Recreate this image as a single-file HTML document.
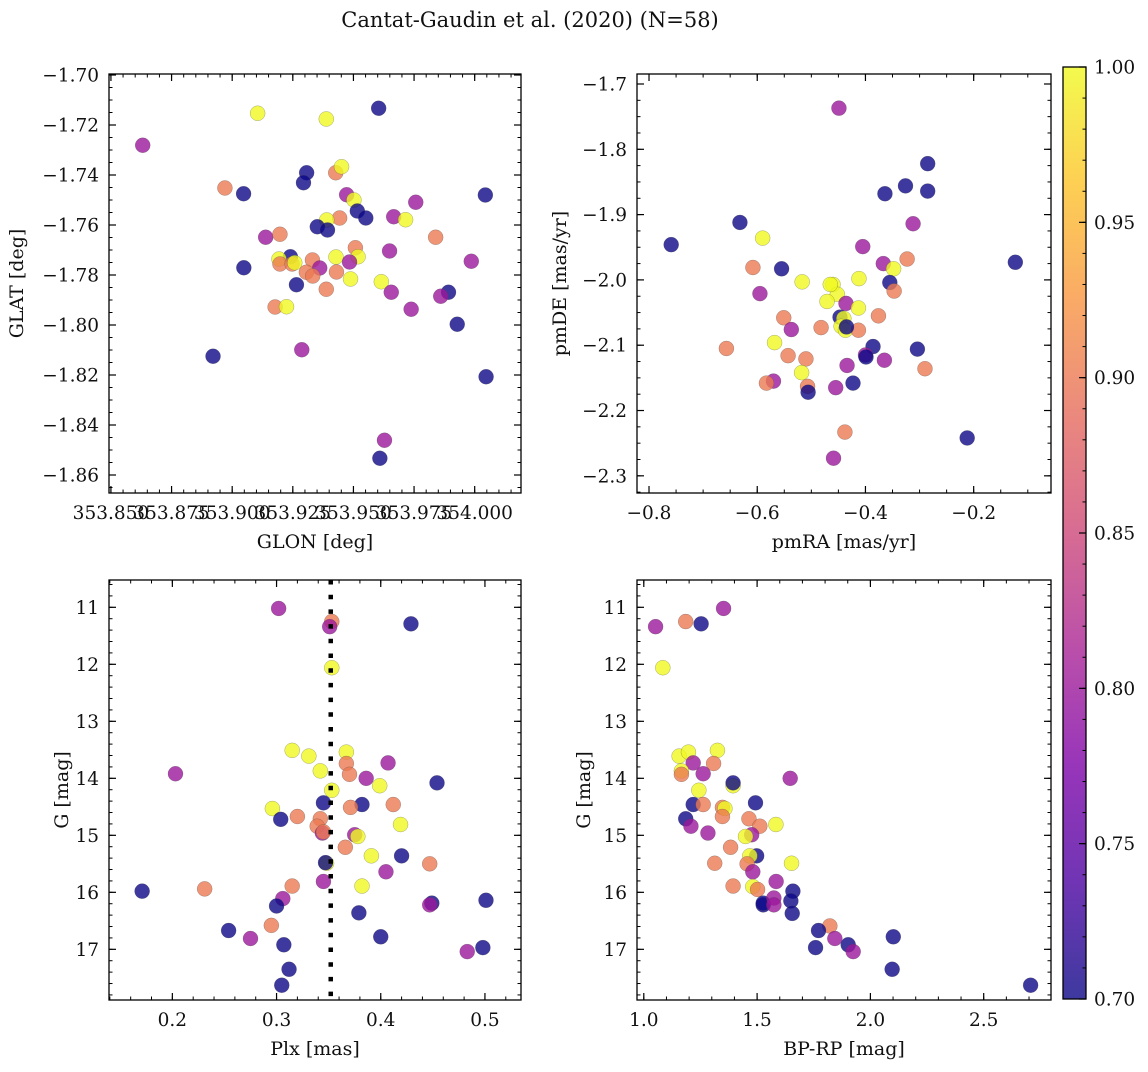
<!DOCTYPE html>
<html><head><meta charset="utf-8"><style>
html,body{margin:0;padding:0;background:#fff;}
svg text{font-family:"DejaVu Serif","Liberation Serif",serif;fill:#111;}
</style></head><body>
<svg id="fig" xmlns="http://www.w3.org/2000/svg" width="1148" height="1067" viewBox="0 0 1148 1067">
<defs><linearGradient id="cbgrad" x1="0" y1="1" x2="0" y2="0">
<stop offset="0" stop-color="#0d0887" stop-opacity="0.8"/><stop offset="0.125" stop-color="#4c02a1" stop-opacity="0.8"/><stop offset="0.25" stop-color="#7e03a8" stop-opacity="0.8"/><stop offset="0.375" stop-color="#a92395" stop-opacity="0.8"/><stop offset="0.5" stop-color="#cc4778" stop-opacity="0.8"/><stop offset="0.625" stop-color="#e56b5d" stop-opacity="0.8"/><stop offset="0.75" stop-color="#f89540" stop-opacity="0.8"/><stop offset="0.875" stop-color="#fdc328" stop-opacity="0.8"/><stop offset="1" stop-color="#f0f921" stop-opacity="0.8"/>
</linearGradient></defs>
<text x="530" y="27" font-size="21" text-anchor="middle">Cantat-Gaudin et al. (2020) (N=58)</text>
</svg>
<script>
// Panel 1: GLON / GLAT
const glon=[353.8631,353.9105,353.9388,353.9604,353.8970,353.9047,353.9307,353.9294,353.9427,353.9451,353.9472,353.9502,353.9516,353.9551,353.9443,353.9390,353.9351,353.9393,353.9757,353.9666,353.9715,354.0044,353.9839,353.9138,353.9197,353.9240,353.9193,353.9197,353.9247,353.9258,353.9331,353.9361,353.9306,353.9428,353.9508,353.9519,353.9484,353.9430,353.9488,353.9649,353.9986,353.9048,353.9265,353.9388,353.9615,353.9656,353.9892,353.9860,353.9738,353.9928,353.9177,353.9224,353.8921,353.9287,354.0047,353.9628,353.9609,353.9332];
const glat=[-1.7281,-1.7153,-1.7176,-1.7133,-1.7452,-1.7475,-1.7391,-1.7431,-1.7391,-1.7367,-1.7479,-1.7500,-1.7544,-1.7572,-1.7572,-1.7580,-1.7607,-1.7620,-1.7509,-1.7567,-1.7579,-1.7480,-1.7649,-1.7649,-1.7637,-1.7727,-1.7736,-1.7756,-1.7756,-1.7751,-1.7740,-1.7772,-1.7789,-1.7728,-1.7691,-1.7727,-1.7748,-1.7788,-1.7816,-1.7704,-1.7745,-1.7771,-1.7839,-1.7857,-1.7827,-1.7869,-1.7869,-1.7885,-1.7937,-1.7997,-1.7928,-1.7927,-1.8125,-1.8099,-1.8207,-1.8461,-1.8533,-1.7804];
const prob1=[0.8,1,1,0.7,0.9,0.7,0.7,0.7,0.9,1,0.8,1,0.7,0.7,0.9,1,0.7,0.7,0.8,0.8,1,0.7,0.9,0.8,0.9,0.7,1,0.9,0.9,1,0.9,0.8,0.9,1,0.9,1,0.8,0.9,1,0.8,0.8,0.7,0.7,0.9,1,0.8,0.7,0.8,0.8,0.7,0.9,1,0.7,0.8,0.7,0.8,0.7,0.9];
// Panel 2: pmRA / pmDE
const pmra=[-0.449,-0.285,-0.326,-0.364,-0.285,-0.632,-0.312,-0.759,-0.590,-0.405,-0.608,-0.555,-0.367,-0.323,-0.348,-0.123,-0.517,-0.412,-0.355,-0.347,-0.460,-0.452,-0.595,-0.471,-0.436,-0.413,-0.376,-0.551,-0.447,-0.440,-0.445,-0.437,-0.537,-0.482,-0.413,-0.568,-0.657,-0.386,-0.304,-0.400,-0.399,-0.543,-0.510,-0.365,-0.434,-0.290,-0.518,-0.570,-0.583,-0.423,-0.507,-0.506,-0.455,-0.438,-0.212,-0.459,-0.435,-0.465];
const pmde=[-1.737,-1.822,-1.856,-1.868,-1.864,-1.912,-1.914,-1.946,-1.936,-1.949,-1.981,-1.983,-1.975,-1.968,-1.983,-1.973,-2.003,-1.998,-2.004,-2.017,-2.007,-2.022,-2.021,-2.033,-2.036,-2.043,-2.055,-2.058,-2.057,-2.059,-2.071,-2.077,-2.076,-2.073,-2.077,-2.096,-2.105,-2.102,-2.106,-2.115,-2.118,-2.116,-2.121,-2.123,-2.131,-2.136,-2.142,-2.155,-2.158,-2.158,-2.163,-2.172,-2.165,-2.233,-2.242,-2.273,-2.072,-2.007];
const prob2=[0.8,0.7,0.7,0.7,0.7,0.7,0.8,0.7,1,0.8,0.9,0.7,0.8,0.9,1,0.7,1,1,0.7,0.9,1,1,0.8,1,0.8,1,0.9,0.9,0.7,1,1,1,0.8,0.9,0.9,1,0.9,0.7,0.7,0.8,0.7,0.9,0.9,0.8,0.8,0.9,1,0.8,0.9,0.7,0.9,0.7,0.8,0.9,0.7,0.8,0.7,1];
// Panel 3: Plx / G
const plx=[0.302,0.353,0.351,0.429,0.353,0.315,0.331,0.367,0.367,0.407,0.342,0.370,0.203,0.386,0.399,0.454,0.353,0.345,0.382,0.371,0.412,0.296,0.304,0.320,0.342,0.339,0.344,0.375,0.378,0.419,0.366,0.391,0.420,0.348,0.447,0.405,0.345,0.382,0.315,0.231,0.171,0.306,0.300,0.449,0.447,0.501,0.379,0.295,0.254,0.275,0.400,0.307,0.498,0.483,0.312,0.305,0.347,0.345];
const gmag3=[11.02,11.25,11.34,11.29,12.06,13.51,13.61,13.54,13.74,13.73,13.87,13.93,13.92,14.00,14.13,14.08,14.21,14.43,14.46,14.51,14.46,14.53,14.72,14.67,14.71,14.84,14.96,14.99,15.02,14.81,15.21,15.36,15.36,15.49,15.50,15.64,15.81,15.89,15.89,15.94,15.98,16.11,16.24,16.19,16.22,16.14,16.36,16.58,16.67,16.81,16.78,16.92,16.97,17.04,17.35,17.63,15.48,14.94];
const prob3=[0.8,0.9,0.8,0.7,1,1,1,1,0.9,0.8,1,0.9,0.8,0.8,1,0.7,1,0.7,0.7,0.9,0.9,1,0.7,0.9,0.9,0.9,0.8,0.8,1,1,0.9,1,0.7,1,0.9,0.8,0.8,1,0.9,0.9,0.7,0.8,0.7,0.7,0.8,0.7,0.7,0.9,0.7,0.8,0.7,0.7,0.7,0.8,0.7,0.7,0.7,0.9];
const plxRef=[0.352];
// Panel 4: BP-RP / G
const bprp=[1.352,1.185,1.253,1.052,1.084,1.325,1.156,1.197,1.308,1.218,1.166,1.166,1.262,1.646,1.394,1.394,1.243,1.218,1.493,1.262,1.347,1.358,1.185,1.347,1.464,1.512,1.583,1.208,1.283,1.476,1.449,1.383,1.498,1.468,1.313,1.456,1.652,1.481,1.584,1.394,1.481,1.502,1.658,1.649,1.527,1.527,1.574,1.574,1.655,1.821,1.771,1.843,2.101,1.758,1.902,1.924,2.096,2.707];
const gmag4=[11.02,11.25,11.29,11.34,12.06,13.51,13.61,13.54,13.74,13.73,13.87,13.93,13.92,14.00,14.13,14.08,14.21,14.46,14.43,14.46,14.51,14.53,14.71,14.67,14.71,14.84,14.81,14.84,14.96,14.99,15.02,15.21,15.36,15.36,15.49,15.50,15.49,15.64,15.81,15.89,15.90,15.95,15.98,16.15,16.22,16.19,16.10,16.22,16.37,16.59,16.67,16.81,16.78,16.97,16.92,17.04,17.35,17.63];
const prob4=[0.8,0.9,0.7,0.8,1,1,1,1,0.9,0.8,1,0.9,0.8,0.8,1,0.7,1,0.7,0.7,0.9,0.9,1,0.7,0.9,0.9,0.9,1,0.8,0.8,0.8,1,0.9,0.7,1,0.9,0.9,1,0.8,0.8,0.9,1,0.9,0.7,0.7,0.7,0.7,0.8,0.8,0.7,0.9,0.7,0.8,0.7,0.7,0.7,0.8,0.7,0.7];
// Colorbar ticks
const cbTicks=[0.70,0.75,0.80,0.85,0.90,0.95,1.00];

const NS='http://www.w3.org/2000/svg';
const fig=document.getElementById('fig');
const TF=18.5, LF=19;
function mk(tag,attrs,parent){const e=document.createElementNS(NS,tag);for(const k in attrs)e.setAttribute(k,attrs[k]);(parent||fig).appendChild(e);return e;}
const stops=[[0,[13,8,135]],[0.125,[76,2,161]],[0.25,[126,3,168]],[0.375,[169,35,149]],[0.5,[204,71,120]],[0.625,[229,107,93]],[0.75,[248,149,64]],[0.875,[253,195,40]],[1,[240,249,33]]];
function plasma(t){t=Math.max(0,Math.min(1,t));for(let i=1;i<stops.length;i++){if(t<=stops[i][0]){const a=stops[i-1],b=stops[i],f=(t-a[0])/(b[0]-a[0]);const c=a[1].map((v,j)=>Math.round(v+(b[1][j]-v)*f));return 'rgb('+c.join(',')+')';}}return 'rgb(240,249,33)';}
function fmtMinus(s){return s.replace('-','\u2212');}

function panel(cfg){
  const g=mk('g',{});
  
  
  const sx=v=>cfg.x+(v-cfg.xd[0])/(cfg.xd[1]-cfg.xd[0])*cfg.w;
  const sy=v=>cfg.y+cfg.h-(v-cfg.yd[0])/(cfg.yd[1]-cfg.yd[0])*cfg.h;
  const xmin=Math.min(...cfg.xd),xmax=Math.max(...cfg.xd),ymin=Math.min(...cfg.yd),ymax=Math.max(...cfg.yd);
  for(let k=Math.ceil(xmin/cfg.xminor-1e-6);k*cfg.xminor<=xmax+1e-9;k++){const px=sx(k*cfg.xminor);
    mk('line',{x1:px,x2:px,y1:cfg.y+cfg.h,y2:cfg.y+cfg.h-3.5,stroke:'#000','stroke-width':1},g);
    mk('line',{x1:px,x2:px,y1:cfg.y,y2:cfg.y+3.5,stroke:'#000','stroke-width':1},g);}
  for(let k=Math.ceil(ymin/cfg.yminor-1e-6);k*cfg.yminor<=ymax+1e-9;k++){const py=sy(k*cfg.yminor);
    mk('line',{x1:cfg.x,x2:cfg.x+3.5,y1:py,y2:py,stroke:'#000','stroke-width':1},g);
    mk('line',{x1:cfg.x+cfg.w,x2:cfg.x+cfg.w-3.5,y1:py,y2:py,stroke:'#000','stroke-width':1},g);}
  cfg.xticks.forEach(v=>{const px=sx(v);
    mk('line',{x1:px,x2:px,y1:cfg.y+cfg.h,y2:cfg.y+cfg.h-7,stroke:'#000','stroke-width':1.2},g);
    mk('line',{x1:px,x2:px,y1:cfg.y,y2:cfg.y+7,stroke:'#000','stroke-width':1.2},g);
    const t=mk('text',{x:px,y:cfg.y+cfg.h+26,'font-size':TF,'text-anchor':'middle'},g);t.textContent=fmtMinus(v.toFixed(cfg.xdec));
    
    });
  cfg.yticks.forEach(v=>{const py=sy(v);
    mk('line',{x1:cfg.x,x2:cfg.x+7,y1:py,y2:py,stroke:'#000','stroke-width':1.2},g);
    mk('line',{x1:cfg.x+cfg.w,x2:cfg.x+cfg.w-7,y1:py,y2:py,stroke:'#000','stroke-width':1.2},g);
    const t=mk('text',{x:cfg.x-10,y:py+6.5,'font-size':TF,'text-anchor':'end'},g);t.textContent=fmtMinus(v.toFixed(cfg.ydec));
    
    });
  for(let i=0;i<cfg.xs.length;i++){
    const c=mk('circle',{cx:sx(cfg.xs[i]),cy:sy(cfg.ys[i]),r:7.5,fill:plasma((cfg.cs[i]-0.7)/0.3),'fill-opacity':0.8,stroke:'#444','stroke-opacity':0.45,'stroke-width':0.5},g);
    
    
  }
  if(cfg.vline){cfg.vline.forEach(v=>{const l=mk('line',{x1:sx(v),x2:sx(v),y1:cfg.y,y2:cfg.y+cfg.h,stroke:'#000','stroke-width':4.5,'stroke-dasharray':'4.5 10.2'},g);
    
    });}
  const fr=mk('rect',{x:cfg.x,y:cfg.y,width:cfg.w,height:cfg.h,fill:'none',stroke:'#000','stroke-width':1.3},g);
  
  
  const xl=mk('text',{x:cfg.x+cfg.w/2,y:cfg.y+cfg.h+55,'font-size':LF,'text-anchor':'middle'},g);xl.textContent=cfg.xlabel;
  
  
  const cy=cfg.y+cfg.h/2;
  const yl=mk('text',{x:cfg.ylx,y:cy,'font-size':LF,'text-anchor':'middle',transform:'rotate(-90 '+cfg.ylx+' '+cy+')'},g);yl.textContent=cfg.ylabel;
  
  
}

panel({name:'glon-glat-panel',x:109,y:74,w:412,h:419,xd:[353.8492,354.0191],yd:[-1.8672,-1.6996],
  xticks:[353.85,353.875,353.9,353.925,353.95,353.975,354.0],xdec:3,xminor:0.005,
  yticks:[-1.86,-1.84,-1.82,-1.80,-1.78,-1.76,-1.74,-1.72,-1.70],ydec:2,yminor:0.005,
  xs:glon,ys:glat,cs:prob1,xlabel:'GLON [deg]',ylabel:'GLAT [deg]',ylx:23});
panel({name:'proper-motion-panel',x:637,y:74,w:414,h:419,xd:[-0.8222,-0.0571],yd:[-2.3263,-1.6847],
  xticks:[-0.8,-0.6,-0.4,-0.2],xdec:1,xminor:0.05,
  yticks:[-2.3,-2.2,-2.1,-2.0,-1.9,-1.8,-1.7],ydec:1,yminor:0.025,
  xs:pmra,ys:pmde,cs:prob2,xlabel:'pmRA [mas/yr]',ylabel:'pmDE [mas/yr]',ylx:566});
panel({name:'parallax-magnitude-panel',x:109,y:580,w:412,h:420,xd:[0.1392,0.5346],yd:[17.889,10.521],
  xticks:[0.2,0.3,0.4,0.5],xdec:1,xminor:0.02,
  yticks:[11,12,13,14,15,16,17],ydec:0,yminor:0.2,
  xs:plx,ys:gmag3,cs:prob3,vline:plxRef,xlabel:'Plx [mas]',ylabel:'G [mag]',ylx:68});
panel({name:'color-magnitude-panel',x:637,y:580,w:414,h:420,xd:[0.970,2.797],yd:[17.889,10.521],
  xticks:[1.0,1.5,2.0,2.5],xdec:1,xminor:0.1,
  yticks:[11,12,13,14,15,16,17],ydec:0,yminor:0.2,
  xs:bprp,ys:gmag4,cs:prob4,xlabel:'BP-RP [mag]',ylabel:'G [mag]',ylx:590});

(function(){
  const x=1063,y=67,w=23,h=932,lo=0.7,hi=1.0;
  const g=mk('g',{});
  
  
  const sy=v=>y+h-(v-lo)/(hi-lo)*h;
  mk('rect',{x:x,y:y,width:w,height:h,fill:'url(#cbgrad)'},g);
  for(let k=70;k<=100;k++){const py=sy(k/100);mk('line',{x1:x+w,x2:x+w-3.5,y1:py,y2:py,stroke:'#000','stroke-width':1},g);}
  cbTicks.forEach(v=>{const py=sy(v);mk('line',{x1:x+w,x2:x+w-7,y1:py,y2:py,stroke:'#000','stroke-width':1.2},g);
    const t=mk('text',{x:x+w+8,y:py+6.5,'font-size':TF},g);t.textContent=v.toFixed(2);
    
    });
  mk('rect',{x:x,y:y,width:w,height:h,fill:'none',stroke:'#000','stroke-width':1.3},g);
})();
</script>
</body></html>
